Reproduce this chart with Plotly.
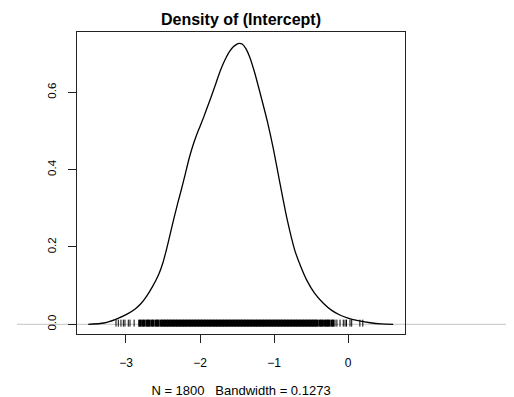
import plotly.graph_objects as go

# Density curve
dens_x = [-3.51, -3.35, -3.26, -3.10, -2.98, -2.88, -2.80, -2.72, -2.64, -2.56, -2.50,
          -2.45, -2.40, -2.35, -2.30, -2.25, -2.20, -2.15, -2.10, -2.05, -2.00, -1.95,
          -1.90, -1.85, -1.80, -1.75, -1.70, -1.65, -1.60, -1.55, -1.50, -1.47, -1.43,
          -1.38, -1.33, -1.26, -1.17, -1.09, -1.01, -0.92, -0.83, -0.72, -0.64, -0.56,
          -0.45, -0.33, -0.22, -0.11, 0.00, 0.12, 0.30, 0.45, 0.61]
dens_y = [0.000, 0.002, 0.005, 0.016, 0.027, 0.039, 0.053, 0.073, 0.098, 0.128, 0.160,
          0.196, 0.236, 0.276, 0.314, 0.350, 0.388, 0.427, 0.460, 0.488, 0.512, 0.536,
          0.562, 0.588, 0.615, 0.643, 0.668, 0.689, 0.706, 0.718, 0.725, 0.727, 0.725,
          0.713, 0.692, 0.650, 0.585, 0.525, 0.455, 0.365, 0.278, 0.192, 0.150, 0.115,
          0.080, 0.054, 0.036, 0.024, 0.016, 0.010, 0.004, 0.001, 0.000]

# Rug positions (approximate; dense band is solid in the picture)
rug_sparse = [-3.135, -3.104, -3.068, -3.036, -3.014, -2.969, -2.946, -2.89,
              -0.176, -0.15, -0.108, -0.064, -0.04, -0.02, 0.027, 0.05, 0.16, 0.20]
rug_dense = [-2.82, -2.80, -2.77, -2.75, -2.72, -2.70, -2.68, -2.65, -2.63, -2.60,
             -2.58, -2.56, -2.53, -2.51, -2.49, -2.47,
             -2.45, -2.43, -2.41, -2.39, -2.37, -2.35, -2.33, -2.31, -2.29, -2.27,
             -2.25, -2.23, -2.21, -2.19, -2.17, -2.15, -2.13, -2.11, -2.09, -2.07,
             -2.05, -2.03, -2.01, -1.99, -1.97, -1.95, -1.93, -1.91, -1.89, -1.87,
             -1.85, -1.83, -1.81, -1.79, -1.77, -1.75, -1.73, -1.71, -1.69, -1.67,
             -1.65, -1.63, -1.61, -1.59, -1.57, -1.55, -1.53, -1.51, -1.49, -1.47,
             -1.45, -1.43, -1.41, -1.39, -1.37, -1.35, -1.33, -1.31, -1.29, -1.27,
             -1.25, -1.23, -1.21, -1.19, -1.17, -1.15, -1.13, -1.11, -1.09, -1.07,
             -1.05, -1.03, -1.01, -0.99, -0.97, -0.95, -0.93, -0.91, -0.89, -0.87,
             -0.85, -0.83, -0.81, -0.79, -0.77, -0.75, -0.73, -0.71, -0.69, -0.67,
             -0.65, -0.63, -0.61, -0.59, -0.57, -0.55, -0.53, -0.51, -0.49, -0.47,
             -0.45, -0.43, -0.41, -0.38, -0.36, -0.34, -0.31, -0.29, -0.27, -0.25,
             -0.22, -0.20]
rug_level = 0.003

x_ticks = [-3, -2, -1, 0]
x_tick_text = ["\u22123", "\u22122", "\u22121", "0"]
y_ticks = [0.0, 0.2, 0.4, 0.6]
y_tick_text = ["0.0", "0.2", "0.4", "0.6"]

title_text = "<b>Density of (Intercept)</b>"
x_label = "N = 1800   Bandwidth = 0.1273"

FONT = "Liberation Sans, Arial, sans-serif"
W, H = 514, 397
# page body adds an 8px offset; margins compensate so the box lands at 77..405 x 32..334
ML, MR, MT, MB = 69, 117, 24, 71

fig = go.Figure()
fig.add_trace(go.Scatter(
    x=dens_x, y=dens_y, mode="lines",
    line=dict(color="black", width=1.3, shape="spline", smoothing=0.6),
    hoverinfo="skip", showlegend=False))
fig.add_trace(go.Scatter(
    x=rug_dense, y=[rug_level] * len(rug_dense), mode="markers",
    marker=dict(symbol="line-ns", size=5, line=dict(color="black", width=2.2)),
    hoverinfo="skip", showlegend=False))
fig.add_trace(go.Scatter(
    x=rug_sparse, y=[rug_level] * len(rug_sparse), mode="markers",
    marker=dict(symbol="line-ns", size=5, line=dict(color="black", width=1)),
    hoverinfo="skip", showlegend=False))

plot_w = W - ML - MR
fig.add_shape(type="line", xref="paper", yref="y",
              x0=(9 - ML) / plot_w, x1=(W - ML) / plot_w, y0=0, y1=0,
              line=dict(color="#c4c4c4", width=1), layer="below")

fig.update_layout(
    width=W, height=H,
    margin=dict(l=ML, r=MR, t=MT, b=MB, autoexpand=False),
    paper_bgcolor="white", plot_bgcolor="white",
    font=dict(family=FONT, size=11, color="black"),
    title=dict(text=title_text, x=(ML + plot_w / 2) / W, xanchor="center",
               y=1 - 11.5 / H, yanchor="middle",
               font=dict(family=FONT, size=16, color="black")),
    xaxis=dict(range=[-3.662, 0.770], tickvals=x_ticks, ticktext=x_tick_text,
               showgrid=False, zeroline=False,
               showline=True, linecolor="#222", linewidth=1, mirror=True,
               ticks="outside", ticklen=8, tickcolor="#222", tickwidth=1,
               tickfont=dict(size=12), ticklabelstandoff=10,
               title=dict(text=x_label, font=dict(size=13), standoff=16)),
    yaxis=dict(range=[-0.0251, 0.7562], tickvals=y_ticks, ticktext=y_tick_text,
               showgrid=False, zeroline=False,
               showline=True, linecolor="#222", linewidth=1, mirror=True,
               ticks="outside", ticklen=8, tickcolor="#222", tickwidth=1,
               tickangle=-90, tickfont=dict(size=11.5), ticklabelstandoff=7),
)

fig.write_html("out.html")
